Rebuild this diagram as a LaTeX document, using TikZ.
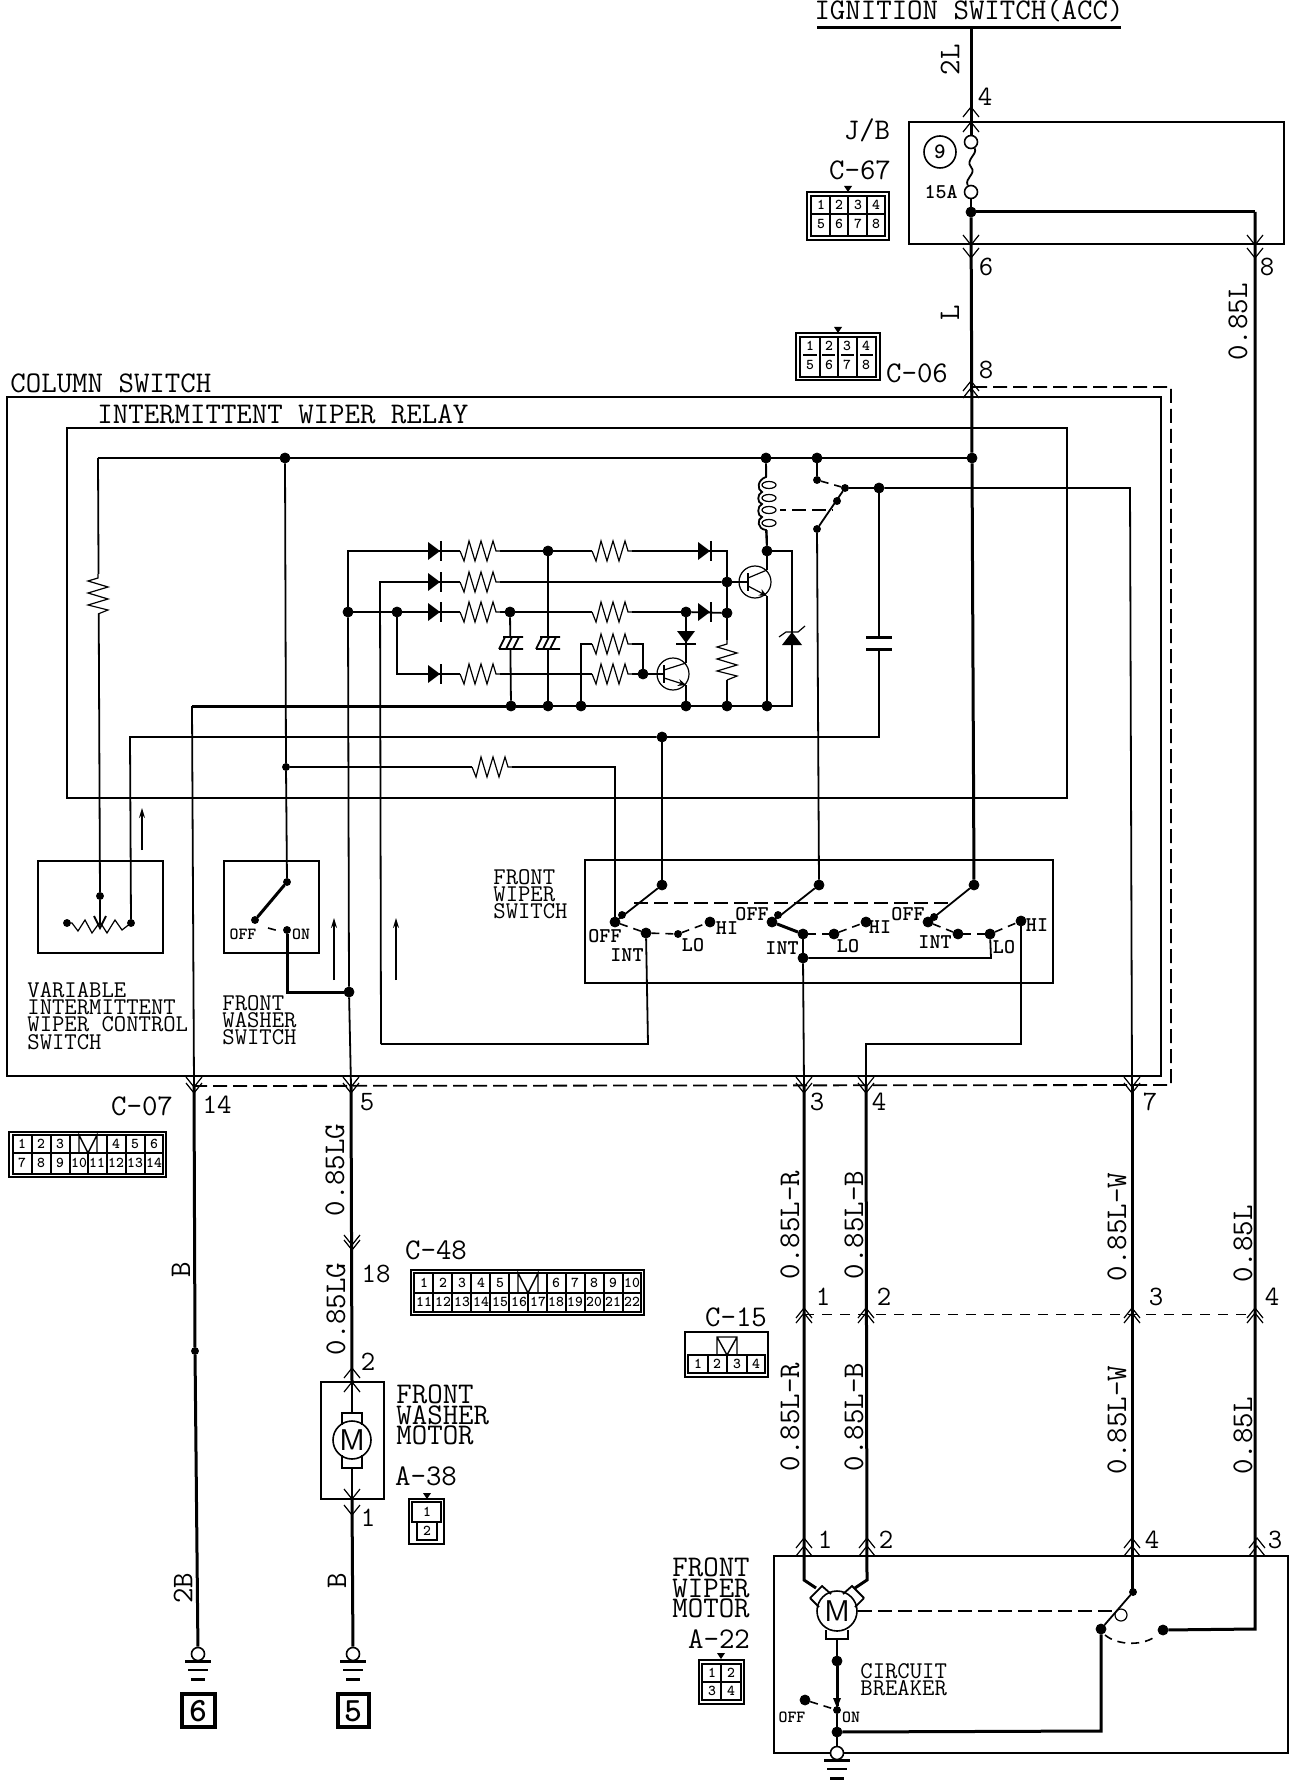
\documentclass[tikz,border=0pt]{standalone}
\usepackage{fontspec}
\usepackage{amsmath,amsfonts,amsthm}
\usetikzlibrary{arrows.meta}

\tikzset{
  wire/.style={line width=0.9pt},
  heavy/.style={line width=1.5pt},
  slim/.style={line width=0.6pt},
  box/.style={line width=0.9pt},
  cbox/.style={line width=0.7pt},
  link/.style={line width=0.9pt,dashed,dash pattern=on 7pt off 3pt},
  shortlink/.style={line width=0.8pt,dash pattern=on 4pt off 3pt},
  flow/.style={line width=0.7pt,-{Stealth[length=5pt,width=3pt]}},
  dot/.style={circle,draw,fill=black,inner sep=0pt,minimum width=5pt},
  sdot/.style={circle,draw,fill=black,inner sep=0pt,minimum width=3.5pt},
  openc/.style={circle,draw,fill=white,line width=0.8pt,inner sep=0pt,minimum width=6.5pt},
  bigtext/.style={font=\fontsize{15}{15}\selectfont\ttfamily,inner sep=0pt},
  pintext/.style={font=\fontsize{14}{14}\selectfont\ttfamily,inner sep=0pt},
  stack/.style={font=\fontsize{12}{8.6}\selectfont\ttfamily,inner sep=0pt,align=left,anchor=west},
  motortext/.style={font=\fontsize{15}{10.4}\selectfont\ttfamily,inner sep=0pt,align=left,anchor=west},
  swtext/.style={font=\fontsize{10.5}{10.5}\selectfont\ttfamily\bfseries,inner sep=0pt},
  tinytext/.style={font=\fontsize{8.5}{8.5}\selectfont\ttfamily\bfseries,inner sep=0pt},
  cell/.style={font=\fontsize{7.5}{7.5}\selectfont\ttfamily\bfseries,inner sep=0pt},
  pinup/.pic={\draw[slim] (-8,10) -- (0,0) -- (8,10);},
  pindown/.pic={\draw[slim] (-8,-10) -- (0,0) -- (8,-10);},
  resist/.pic={\fill[white] (-20,-12) rectangle (20,12);
    \draw[slim] (-20,0) -- (-16,10) -- (-11,-10) -- (-5,10) -- (1,-10) -- (7,10) -- (13,-10) -- (16,0) -- (20,0);},
  diode/.pic={\fill[black] (-7,-9) -- (5,0) -- (-7,9) -- cycle; \draw[wire] (6,-10) -- (6,10);},
  hatchcap/.pic={\fill[white] (-14,-7) rectangle (14,7);
    \draw[wire] (-8,-6) -- (12,-6) (-12,6) -- (12,6) (-6,-6) -- (-12,6) (1,-6) -- (-5,6) (8,-6) -- (2,6);},
  gndbars/.pic={\draw[heavy] (-13,7) -- (13,7); \draw[wire] (-10,16) -- (10,16); \draw[heavy] (-7,25) -- (7,25);},
  ctab/.pic={\fill[black] (-4,-4) -- (4,-4) -- (0,2) -- cycle;}
}

\begin{document}
\begin{tikzpicture}[x=0.5pt,y=-0.5pt]
\useasboundingbox (0,0) rectangle (1312,1780);

% boxes
\draw[box] (7,397) rectangle (1161,1076);
\draw[box] (67,428) rectangle (1067,798);
\draw[box] (909,122) rectangle (1284,244);
\draw[box] (38,861) rectangle (163,953);
\draw[box] (224,861) rectangle (319,953);
\draw[box] (585,860) rectangle (1053,983);
\draw[box] (321,1382) rectangle (384,1499);
\draw[box] (774,1556) rectangle (1288,1753);

% headings
\node[bigtext,anchor=west] at (10,383) (tcolumn) {COLUMN SWITCH};
\node[bigtext,anchor=west] at (97,414) (trelay) {INTERMITTENT WIPER RELAY};
\node[bigtext] at (969,10) (tign) {IGNITION SWITCH(ACC)};
\node[stack] at (27,1016) (tvar) {VARIABLE\\INTERMITTENT\\WIPER CONTROL\\SWITCH};
\node[stack] at (222,1020) (twash) {FRONT\\WASHER\\SWITCH};
\node[stack] at (493,894) (tfws) {FRONT\\WIPER\\SWITCH};
\node[motortext] at (396,1415) (twm) {FRONT\\WASHER\\MOTOR};
\node[motortext] at (672,1588) (tfwm) {FRONT\\WIPER\\MOTOR};
\node[stack] at (860,1680) (tcb) {CIRCUIT\\BREAKER};

% connector names
\node[bigtext] at (867,130) (tjb) {J/B};
\node[bigtext] at (860,170) (tc67) {C-67};
\node[bigtext] at (917,373) (tc06) {C-06};
\node[bigtext] at (142,1106) (tc07) {C-07};
\node[bigtext] at (436,1250) (tc48) {C-48};
\node[bigtext] at (736,1317) (tc15) {C-15};
\node[bigtext] at (426,1476) (ta38) {A-38};
\node[bigtext] at (719,1639) (ta22) {A-22};

% pin numbers
\node[pintext] at (985,97) (p4a) {4};
\node[pintext] at (986,267) (p6a) {6};
\node[pintext] at (1267,267) (p8a) {8};
\node[pintext] at (986,370) (p8b) {8};
\node[pintext] at (217,1105) (p14) {14};
\node[pintext] at (367,1102) (p5) {5};
\node[pintext] at (817,1102) (p3a) {3};
\node[pintext] at (879,1102) (p4b) {4};
\node[pintext] at (1150,1102) (p7) {7};
\node[pintext] at (376,1274) (p18) {18};
\node[pintext] at (368,1362) (p2a) {2};
\node[pintext] at (368,1518) (p1a) {1};
\node[pintext] at (823,1297) (p1b) {1};
\node[pintext] at (884,1297) (p2b) {2};
\node[pintext] at (1156,1297) (p3b) {3};
\node[pintext] at (1272,1297) (p4c) {4};
\node[pintext] at (825,1540) (p1c) {1};
\node[pintext] at (886,1540) (p2c) {2};
\node[pintext] at (1152,1540) (p4d) {4};
\node[pintext] at (1275,1540) (p3c) {3};

% wire names
\node[bigtext,rotate=90] at (950,60) (w2l) {2L};
\node[bigtext,rotate=90] at (950,313) (wl) {L};
\node[bigtext,rotate=90] at (1238,322) (w85a) {0.85L};
\node[bigtext,rotate=90] at (335,1170) (w85lga) {0.85LG};
\node[bigtext,rotate=90] at (336,1309) (w85lgb) {0.85LG};
\node[bigtext,rotate=90] at (181,1270) (wb1) {B};
\node[bigtext,rotate=90] at (183,1588) (w2b) {2B};
\node[bigtext,rotate=90] at (337,1581) (wb2) {B};
\node[bigtext,rotate=90] at (790,1225) (wra) {0.85L-R};
\node[bigtext,rotate=90] at (854,1225) (wba) {0.85L-B};
\node[bigtext,rotate=90] at (1117,1227) (wwa) {0.85L-W};
\node[bigtext,rotate=90] at (1243,1244) (w85b) {0.85L};
\node[bigtext,rotate=90] at (790,1417) (wrb) {0.85L-R};
\node[bigtext,rotate=90] at (854,1417) (wbb) {0.85L-B};
\node[bigtext,rotate=90] at (1117,1420) (wwb) {0.85L-W};
\node[bigtext,rotate=90] at (1243,1436) (w85c) {0.85L};

% switch positions
\node[tinytext] at (243,934) (woff) {OFF};
\node[tinytext] at (301,934) (won) {ON};
\node[swtext] at (605,936) (s1off) {OFF};
\node[swtext] at (627,955) (s1int) {INT};
\node[swtext] at (693,945) (s1lo) {LO};
\node[swtext] at (727,928) (s1hi) {HI};
\node[swtext] at (752,914) (s2off) {OFF};
\node[swtext] at (782,948) (s2int) {INT};
\node[swtext] at (848,946) (s2lo) {LO};
\node[swtext] at (880,927) (s2hi) {HI};
\node[swtext] at (908,914) (s3off) {OFF};
\node[swtext] at (935,942) (s3int) {INT};
\node[swtext] at (1004,947) (s3lo) {LO};
\node[swtext] at (1037,925) (s3hi) {HI};
\node[tinytext] at (792,1717) (moff) {OFF};
\node[tinytext] at (851,1717) (mon) {ON};

% junctions, relay board
\coordinate (tl) at (98,458);
\node[dot] at (285,458) (j1) {};
\node[dot] at (766,458) (j2) {};
\node[dot] at (817,458) (j3) {};
\node[dot] at (972,458) (j4) {};
\node[dot] at (348,612) (j6) {};
\node[dot] at (397,612) (j11) {};
\node[dot] at (510,612) (j12) {};
\node[dot] at (686,612) (j13) {};
\node[dot] at (548,551) (j7) {};
\node[dot] at (727,582) (j8) {};
\node[dot] at (727,613) (j9) {};
\node[dot] at (727,706) (j10) {};
\node[dot] at (511,706) (j14) {};
\node[dot] at (548,706) (j15) {};
\node[dot] at (581,706) (j16) {};
\node[dot] at (686,706) (j17) {};
\node[dot] at (767,706) (j18) {};
\node[dot] at (767,551) (j19) {};
\node[dot] at (662,737) (j20) {};
\node[sdot] at (286,767) (j21) {};
\node[dot] at (349,992) (j22) {};
\node[dot] at (643,674) (j23) {};
\node[dot] at (879,488) (j5) {};
\node[sdot] at (817,480) (r1) {};
\node[sdot] at (845,488) (r2) {};
\node[sdot] at (817,529) (r3) {};
\coordinate (r4) at (837,501);
\coordinate (t1b) at (748,582);
\coordinate (t1c) at (767,570);
\coordinate (t1e) at (767,596);
\coordinate (t2b) at (664,674);
\coordinate (t2c) at (686,663);
\coordinate (t2e) at (686,685);

% junctions, switches
\node[sdot] at (100,896) (v1) {};
\node[sdot] at (131,923) (v2) {};
\node[sdot] at (67,923) (v3) {};
\node[sdot] at (287,882) (ws1) {};
\node[sdot] at (255,920) (ws2) {};
\node[sdot] at (287,930) (ws3) {};
\node[dot] at (662,885) (sa) {};
\node[dot] at (615,922) (sa1) {};
\node[sdot] at (622,915) (sa5) {};
\node[dot] at (646,933) (sa2) {};
\node[sdot] at (678,934) (sa3) {};
\node[dot] at (710,922) (sa4) {};
\node[dot] at (819,885) (sb) {};
\node[dot] at (772,922) (sb1) {};
\node[sdot] at (778,915) (sb5) {};
\node[dot] at (803,934) (sb2) {};
\node[dot] at (834,934) (sb3) {};
\node[dot] at (866,922) (sb4) {};
\node[dot] at (974,885) (sc) {};
\node[dot] at (928,922) (sc1) {};
\node[sdot] at (934,917) (sc5) {};
\node[dot] at (958,934) (sc2) {};
\node[dot] at (990,934) (sc3) {};
\node[dot] at (1021,921) (sc4) {};
\node[dot] at (803,958) (sd) {};

% supply
\coordinate (barl) at (817,28);
\coordinate (barm) at (971,28);
\coordinate (barr) at (1121,28);
\node[openc] at (971,142) (fa) {};
\node[openc] at (971,192) (fb) {};
\node[dot] at (971,212) (jb1) {};
\coordinate (jb2) at (1255,212);
\node[draw,circle,line width=0.8pt,minimum width=16pt,inner sep=0pt,font=\fontsize{11}{11}\selectfont\ttfamily\bfseries] at (940,152) (fno) {9};
\node[swtext,anchor=east] at (958,192) (t15a) {15A};
\draw[heavy] (barl) -- (barr);
\draw[heavy] (barm) -- (fa);
\draw[wire] (fa) .. controls (978,154) and (965,160) .. (971,167) .. controls (977,174) and (964,178) .. (fb);
\draw[wire] (fb) -- (jb1);
\draw[heavy] (jb1) -- (j4);
\draw[heavy] (j4) -- (sc);
\draw[heavy] (jb1) -- (jb2);

% top bus of the relay
\draw[wire] (tl) -- (j1);
\draw[wire] (j1) -- (j2);
\draw[wire] (j2) -- (j3);
\draw[wire] (j3) -- (j4);
\draw[wire] (tl) -- (v1);
\draw[wire] (j1) -- (j21);
\draw[wire] (j21) -- (ws1);
\draw[wire] (j21) -- (615,767) -- (sa1);
\draw[wire] (j2) -- (j19);
\draw[wire] (j3) -- (r1);
\draw[wire] (r3) -- (r2);
\draw[wire] (r2) -- (j5);
\draw[wire] (j5) -- (1130,488) -- (1132,1086);
\draw[wire] (j5) -- (879,737) -- (j20);
\draw[wire] (r3) -- (sb);
\draw[wire] (j20) -- (sa);
\draw[wire] (j20) -- (130,737) -- (v2);
\draw[shortlink] (r1) -- (r2);
\draw[link] (772,510) -- (833,510);

% diode rows
\draw[wire] (j6) -- (348,551) -- (j7);
\draw[wire] (j7) -- (727,551) -- (j8);
\draw[wire] (j8) -- (j9);
\draw[wire] (j9) -- (j10);
\draw[wire] (381,1044) -- (380,582) -- (j8);
\draw[wire] (j8) -- (t1b);
\draw[wire] (j6) -- (j11);
\draw[wire] (j11) -- (j12);
\draw[wire] (j12) -- (j13);
\draw[wire] (j13) -- (j9);
\draw[wire] (j11) -- (397,674) -- (j23);
\draw[wire] (j16) -- (581,644) -- (643,644) -- (j23);
\draw[wire] (j23) -- (t2b);
\draw[wire] (j12) -- (j14);
\draw[wire] (j7) -- (j15);
\draw[heavy] (192,706) -- (j14);
\draw[heavy] (j14) -- (j15);
\draw[wire] (j15) -- (j16);
\draw[wire] (j16) -- (j17);
\draw[wire] (j17) -- (j10);
\draw[wire] (j10) -- (j18);
\draw[wire] (j18) -- (792,706) -- (792,551) -- (j19);
\draw[wire] (j19) -- (t1c);
\draw[wire] (t1e) -- (j18);
\draw[wire] (j13) -- (t2c);
\draw[wire] (t2e) -- (j17);

% transistors
\draw[slim] (755,582) circle (16);
\draw[wire] (748,573) -- (748,591);
\draw[slim] (748,578) -- (t1c);
\draw[slim,-{Stealth[length=4pt,width=3.5pt]}] (748,586) -- (t1e);
\draw[slim] (673,674) circle (16);
\draw[wire] (664,665) -- (664,683);
\draw[slim] (664,670) -- (t2c);
\draw[slim,-{Stealth[length=4pt,width=3.5pt]}] (664,678) -- (t2e);

% parts on the wires
\pic at (98,594) [rotate=90] {resist};
\pic at (480,551) {resist};
\pic at (612,551) {resist};
\pic at (480,582) {resist};
\pic at (480,612) {resist};
\pic at (612,612) {resist};
\pic at (480,674) {resist};
\pic at (612,674) {resist};
\pic at (612,644) {resist};
\pic at (492,767) {resist};
\pic at (727,660) [rotate=90] {resist};
\pic at (435,551) {diode};
\pic at (705,551) {diode};
\pic at (435,582) {diode};
\pic at (435,612) {diode};
\pic at (705,612) {diode};
\pic at (435,674) {diode};
\pic at (686,638) [rotate=-90] {diode};
\pic at (511,643) {hatchcap};
\pic at (548,643) {hatchcap};

% zener
\fill[black] (782,645) -- (792,632) -- (802,645) -- cycle;
\draw[slim] (779,637) -- (786,632) -- (798,632) -- (805,626);

% capacitor
\fill[white] (866,638) rectangle (892,648);
\draw[heavy] (866,637) -- (892,637);
\draw[heavy] (866,649) -- (892,649);

% relay coil and moving contact
\fill[white] (755,477) rectangle (780,530);
\draw[wire] (766,470) -- (766,477) .. controls (757,480) and (757,490) .. (762,492) .. controls (757,494) and (757,503) .. (762,504) .. controls (757,506) and (757,516) .. (762,517) .. controls (757,519) and (757,529) .. (766,530) -- (j19);
\draw[slim] (769,485) ellipse [x radius=7,y radius=3.5];
\draw[slim] (769,498) ellipse [x radius=7,y radius=3.5];
\draw[slim] (769,510) ellipse [x radius=7,y radius=3.5];
\draw[slim] (769,523) ellipse [x radius=7,y radius=3.5];
\fill[black] (r4) circle (4);

% variable control switch
\draw[wire] (v1) -- (100,925);
\draw[slim] (v3) -- (72,923) -- (78,931) -- (85,920) -- (92,933) -- (100,922) -- (107,933) -- (115,920) -- (122,930) -- (v2);
\draw[wire] (94,916) -- (100,928) -- (106,916);
\coordinate (fl1a) at (142,850);
\coordinate (fl1b) at (142,808);
\draw[flow] (fl1a) -- (fl1b);

% washer switch
\draw[heavy] (ws1) -- (ws2);
\draw[shortlink] (268,928) -- (279,931);
\draw[heavy] (ws3) -- (287,992) -- (j22);
\coordinate (fl2a) at (334,980);
\coordinate (fl2b) at (334,918);
\draw[flow] (fl2a) -- (fl2b);
\coordinate (fl3a) at (396,980);
\coordinate (fl3b) at (396,918);
\draw[flow] (fl3a) -- (fl3b);

% wiper switch
\draw[wire] (sa) -- (sa1);
\draw[wire] (sb) -- (sb1);
\draw[wire] (sc) -- (sc1);
\draw[heavy] (sb1) -- (sb2);
\draw[shortlink] (sa1) -- (sa2);
\draw[shortlink] (sa2) -- (sa3);
\draw[shortlink] (sa3) -- (sa4);
\draw[shortlink] (sb2) -- (sb3);
\draw[shortlink] (sb3) -- (sb4);
\draw[shortlink] (sc1) -- (sc2);
\draw[shortlink] (sc2) -- (sc3);
\draw[shortlink] (sc3) -- (sc4);
\draw[link] (634,903) -- (948,903);
\draw[wire] (sb2) -- (sd);
\draw[wire] (sd) -- (991,958) -- (sc3);
\draw[wire] (sa2) -- (648,1044) -- (381,1044);
\draw[wire] (sc4) -- (1021,1044) -- (866,1044) -- (866,1086);
\draw[wire] (sd) -- (804,1086);

% wires leaving the column switch
\coordinate (c07a) at (194,1086);
\coordinate (c07b) at (351,1086);
\draw[wire] (192,706) -- (c07a);
\draw[wire] (j6) -- (j22);
\draw[wire] (j22) -- (c07b);
\draw[link] (973,387) -- (1171,387) -- (1171,1085) -- (c07a);
\draw[line width=0.5pt,dash pattern=on 5pt off 4pt] (804,1314) -- (1255,1314);

% left ground
\node[sdot] at (195,1351) (lj) {};
\node[openc] at (198,1654) (g1) {};
\draw[heavy] (c07a) -- (lj);
\draw[heavy] (lj) -- (g1);
\pic at (g1) {gndbars};

% washer motor
\node[openc] at (353,1654) (g2) {};
\node[draw,circle,line width=0.8pt,fill=white,minimum width=19pt,inner sep=0pt,font=\fontsize{15}{15}\selectfont\sffamily] at (352,1440) (wm) {M};
\draw[wire] (342,1425) -- (342,1413) -- (362,1413) -- (362,1425);
\draw[wire] (342,1455) -- (342,1468) -- (362,1468) -- (362,1455);
\draw[heavy] (c07b) -- (352,1382);
\draw[wire] (352,1382) -- (352,1413);
\draw[wire] (352,1468) -- (352,1499);
\draw[heavy] (352,1499) -- (g2);
\pic at (g2) {gndbars};

% ground marks
\draw[line width=2pt] (182,1694) rectangle (215,1727);
\node[font=\fontsize{17}{17}\selectfont\ttfamily\bfseries,inner sep=0pt] at (198,1711) (g1no) {6};
\draw[line width=2pt] (338,1694) rectangle (369,1727);
\node[font=\fontsize{17}{17}\selectfont\ttfamily\bfseries,inner sep=0pt] at (353,1711) (g2no) {5};

% wiper motor
\node[draw,circle,line width=0.8pt,fill=white,minimum width=20pt,inner sep=0pt,font=\fontsize{15}{15}\selectfont\sffamily] at (837,1611) (fm) {M};
\draw[wire] (810,1598) -- (822,1586) -- (831,1594);
\draw[wire] (810,1598) -- (819,1607);
\draw[wire] (864,1598) -- (852,1586) -- (843,1594);
\draw[wire] (864,1598) -- (855,1607);
\draw[wire] (826,1630) -- (826,1639) -- (848,1639) -- (848,1630);
\coordinate (c15a) at (804,1086);
\coordinate (c15b) at (866,1086);
\coordinate (c15c) at (1132,1086);
\draw[heavy] (c15a) -- (804,1580) -- (816,1588);
\draw[heavy] (c15b) -- (867,1580) -- (855,1588);
\draw[heavy] (c15c) -- (1132,1592);
\node[sdot] at (1133,1592) (cm1) {};
\node[dot] at (1101,1629) (cm2) {};
\node[dot] at (1163,1630) (cm3) {};
\draw[heavy] (jb2) -- (1255,1629) -- (cm3);
\draw[wire] (cm1) -- (cm2);
\draw[slim] (1121,1615) ellipse [x radius=6,y radius=6];
\draw[link] (fm) -- (1117,1611);
\draw[shortlink] (1105,1635) .. controls (1118,1646) and (1145,1646) .. (1157,1635);
\node[dot] at (837,1661) (bk1) {};
\node[sdot] at (837,1710) (bk2) {};
\node[dot] at (837,1732) (bk3) {};
\node[dot] at (805,1700) (bk4) {};
\node[openc] at (837,1753) (g3) {};
\draw[wire] (837,1639) -- (bk1);
\draw[heavy] (bk1) -- (bk2);
\draw[wire] (bk2) -- (bk3);
\draw[wire] (bk3) -- (g3);
\fill[black] (833,1698) -- (841,1698) -- (837,1708) -- cycle;
\draw[shortlink] (bk4) -- (bk2);
\draw[heavy] (bk3) -- (1101,1731) -- (cm2);
\pic at (g3) {gndbars};

% pin chevrons
\pic at (971,107) {pinup};
\pic at (971,122) {pinup};
\pic at (971,245) {pindown};
\pic at (971,258) {pindown};
\pic at (1255,245) {pindown};
\pic at (1255,258) {pindown};
\pic at (971,381) {pinup};
\pic at (971,388) {pinup};
\pic at (194,1087) {pindown};
\pic at (194,1093) {pindown};
\pic at (351,1087) {pindown};
\pic at (351,1093) {pindown};
\pic at (804,1087) {pindown};
\pic at (804,1093) {pindown};
\pic at (866,1087) {pindown};
\pic at (866,1093) {pindown};
\pic at (1132,1087) {pindown};
\pic at (1132,1093) {pindown};
\pic at (352,1245) {pindown};
\pic at (352,1250) {pindown};
\pic at (352,1368) {pinup};
\pic at (352,1382) {pinup};
\pic at (352,1499) {pindown};
\pic at (352,1515) {pindown};
\pic at (804,1308) {pinup};
\pic at (804,1313) {pinup};
\pic at (866,1308) {pinup};
\pic at (866,1313) {pinup};
\pic at (1132,1308) {pinup};
\pic at (1132,1313) {pinup};
\pic at (1255,1308) {pinup};
\pic at (1255,1313) {pinup};
\pic at (804,1538) {pinup};
\pic at (804,1546) {pinup};
\pic at (867,1538) {pinup};
\pic at (867,1546) {pinup};
\pic at (1132,1538) {pinup};
\pic at (1132,1546) {pinup};
\pic at (1257,1538) {pinup};
\pic at (1257,1546) {pinup};

% C-67
\draw[cbox] (807,192) rectangle (889,240) (811,196) rectangle (885,236);
\draw[cbox] (811,214) -- (885,214) (830,196) -- (830,236) (848,196) -- (848,236) (867,196) -- (867,236);
\pic at (848,190) {ctab};
\node[cell] at (821,205) (c67a) {1};
\node[cell] at (839,205) (c67b) {2};
\node[cell] at (858,205) (c67c) {3};
\node[cell] at (876,205) (c67d) {4};
\node[cell] at (821,224) (c67e) {5};
\node[cell] at (839,224) (c67f) {6};
\node[cell] at (858,224) (c67g) {7};
\node[cell] at (876,224) (c67h) {8};

% C-06
\draw[cbox] (796,333) rectangle (880,380) (800,337) rectangle (876,377);
\draw[cbox] (803,355) -- (817,355) (822,355) -- (835,355) (841,355) -- (854,355) (860,355) -- (873,355) (820,337) -- (820,377) (838,337) -- (838,377) (857,337) -- (857,377);
\pic at (838,331) {ctab};
\node[cell] at (810,346) (c06a) {1};
\node[cell] at (829,346) (c06b) {2};
\node[cell] at (847,346) (c06c) {3};
\node[cell] at (866,346) (c06d) {4};
\node[cell] at (810,365) (c06e) {5};
\node[cell] at (829,365) (c06f) {6};
\node[cell] at (847,365) (c06g) {7};
\node[cell] at (866,365) (c06h) {8};

% C-07
\draw[cbox] (9,1132) rectangle (166,1177) (13,1135) rectangle (163,1174);
\draw[cbox] (13,1153) -- (163,1153) (32,1135) -- (32,1174) (51,1135) -- (51,1174) (70,1153) -- (70,1174) (88,1153) -- (88,1174) (107,1153) -- (107,1174) (126,1135) -- (126,1174) (145,1135) -- (145,1174) (70,1135) -- (70,1153) (107,1135) -- (107,1153);
\draw[cbox] (79,1153) -- (79,1135) -- (88,1153) -- (97,1135) -- (97,1153);
\node[cell] at (22,1144) (c07n1) {1};
\node[cell] at (41,1144) (c07n2) {2};
\node[cell] at (60,1144) (c07n3) {3};
\node[cell] at (116,1144) (c07n4) {4};
\node[cell] at (135,1144) (c07n5) {5};
\node[cell] at (154,1144) (c07n6) {6};
\node[cell] at (22,1163) (c07n7) {7};
\node[cell] at (41,1163) (c07n8) {8};
\node[cell] at (60,1163) (c07n9) {9};
\node[cell] at (79,1163) (c07n10) {10};
\node[cell] at (97,1163) (c07n11) {11};
\node[cell] at (116,1163) (c07n12) {12};
\node[cell] at (135,1163) (c07n13) {13};
\node[cell] at (154,1163) (c07n14) {14};

% C-48
\draw[cbox] (411,1270) rectangle (644,1315) (414,1273) rectangle (641,1312);
\draw[cbox] (414,1293) -- (641,1293) (433,1273) -- (433,1312) (452,1273) -- (452,1312) (471,1273) -- (471,1312) (490,1273) -- (490,1312) (509,1273) -- (509,1312) (547,1273) -- (547,1312) (566,1273) -- (566,1312) (585,1273) -- (585,1312) (604,1273) -- (604,1312) (623,1273) -- (623,1312) (528,1293) -- (528,1312);
\draw[cbox] (518,1293) -- (518,1273) -- (528,1293) -- (538,1273) -- (538,1293);
\node[cell] at (424,1283) (c48n1) {1};
\node[cell] at (443,1283) (c48n2) {2};
\node[cell] at (462,1283) (c48n3) {3};
\node[cell] at (481,1283) (c48n4) {4};
\node[cell] at (500,1283) (c48n5) {5};
\node[cell] at (556,1283) (c48n6) {6};
\node[cell] at (575,1283) (c48n7) {7};
\node[cell] at (594,1283) (c48n8) {8};
\node[cell] at (613,1283) (c48n9) {9};
\node[cell] at (632,1283) (c48n10) {10};
\node[cell] at (424,1302) (c48n11) {11};
\node[cell] at (443,1302) (c48n12) {12};
\node[cell] at (462,1302) (c48n13) {13};
\node[cell] at (481,1302) (c48n14) {14};
\node[cell] at (500,1302) (c48n15) {15};
\node[cell] at (519,1302) (c48n16) {16};
\node[cell] at (538,1302) (c48n17) {17};
\node[cell] at (556,1302) (c48n18) {18};
\node[cell] at (575,1302) (c48n19) {19};
\node[cell] at (594,1302) (c48n20) {20};
\node[cell] at (613,1302) (c48n21) {21};
\node[cell] at (632,1302) (c48n22) {22};

% C-15
\draw[cbox] (685,1332) rectangle (768,1377);
\draw[cbox] (688,1355) rectangle (765,1373) (708,1355) -- (708,1373) (727,1355) -- (727,1373) (747,1355) -- (747,1373);
\draw[cbox] (717,1355) -- (717,1337) -- (737,1337) -- (737,1355) (717,1337) -- (727,1355) -- (737,1337);
\node[cell] at (698,1364) (c15n1) {1};
\node[cell] at (717,1364) (c15n2) {2};
\node[cell] at (737,1364) (c15n3) {3};
\node[cell] at (756,1364) (c15n4) {4};

% A-38
\draw[cbox] (409,1499) rectangle (444,1544) (412,1502) rectangle (441,1522) (417,1522) rectangle (437,1540);
\pic at (427,1497) {ctab};
\node[cell] at (427,1512) (a38n1) {1};
\node[cell] at (427,1531) (a38n2) {2};

% A-22
\draw[cbox] (699,1660) rectangle (744,1704) (702,1664) rectangle (741,1700);
\draw[cbox] (721,1664) -- (721,1700) (702,1682) -- (741,1682);
\pic at (721,1657) {ctab};
\node[cell] at (712,1673) (a22n1) {1};
\node[cell] at (731,1673) (a22n2) {2};
\node[cell] at (712,1691) (a22n3) {3};
\node[cell] at (731,1691) (a22n4) {4};
\end{tikzpicture}
\end{document}
